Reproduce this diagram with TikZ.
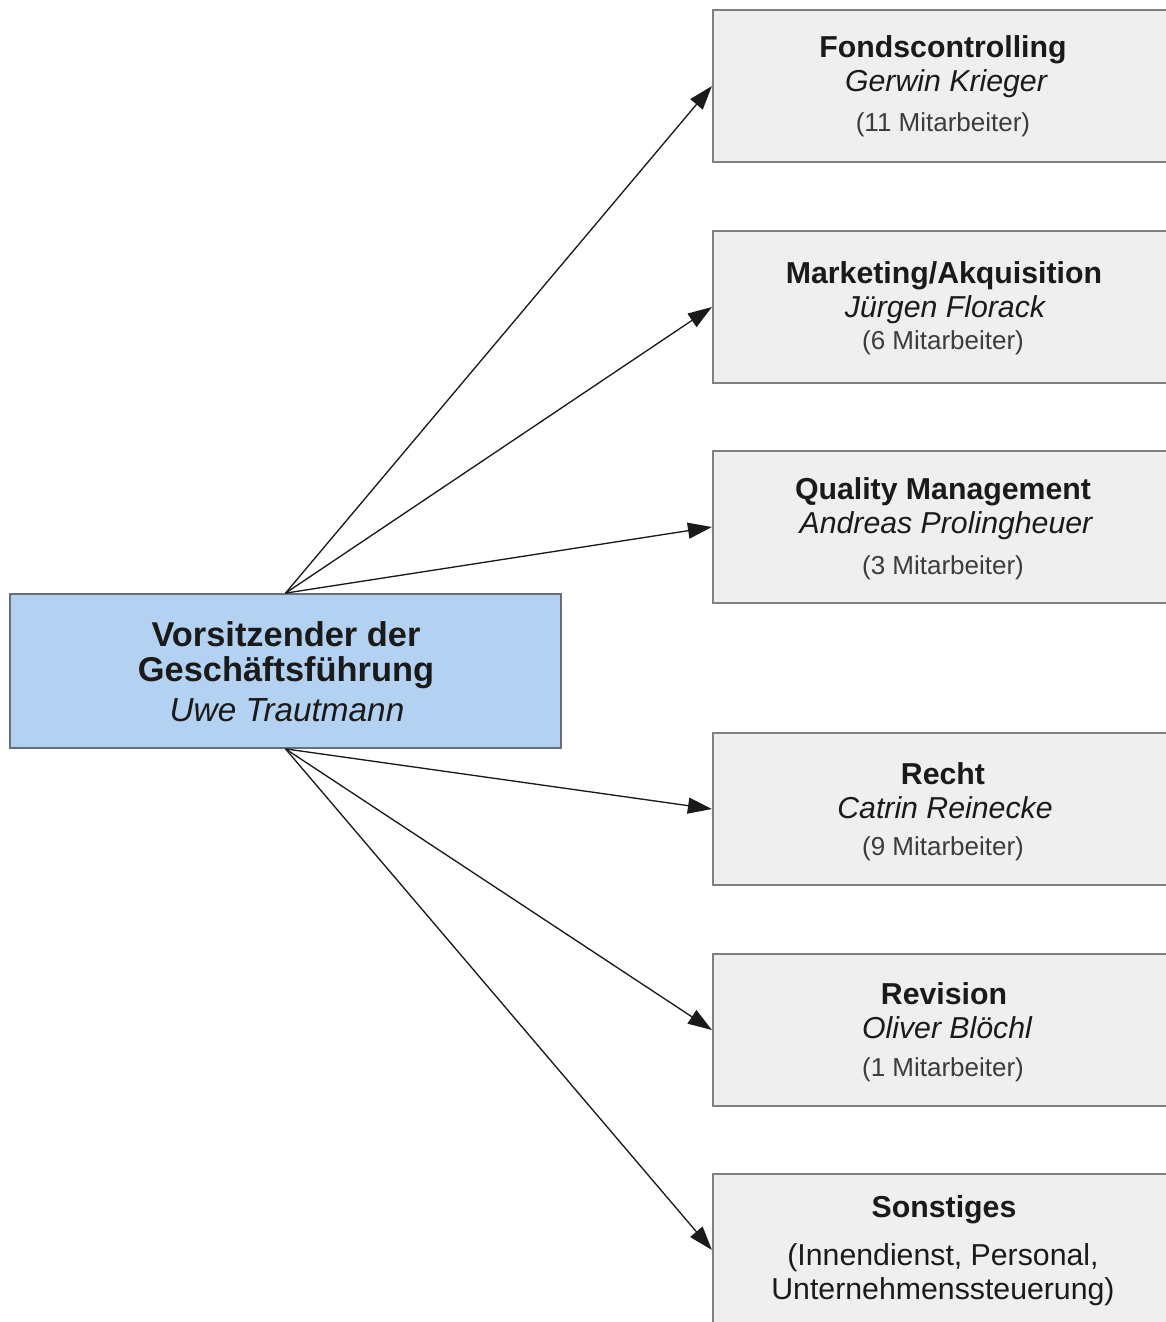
\documentclass[tikz,border=0pt]{standalone}
\usepackage{fontspec}
\setmainfont{Liberation Sans}
\usetikzlibrary{arrows.meta}
\definecolor{boxgray}{RGB}{239,239,239}
\definecolor{framegray}{RGB}{128,128,128}
\definecolor{headblue}{RGB}{179,209,240}
\definecolor{headframe}{RGB}{102,112,125}
\definecolor{inkdark}{RGB}{26,26,26}
\definecolor{inkcount}{RGB}{60,60,60}
\tikzset{
  unitbox/.style={draw=framegray, fill=boxgray, line width=1.6pt,
    minimum width=345.75pt, minimum height=114pt, inner sep=0pt},
  chiefbox/.style={draw=headframe, fill=headblue, line width=1.3pt,
    minimum width=413.25pt, minimum height=115.5pt, inner sep=0pt},
  deptname/.style={font=\fontsize{22.7pt}{27pt}\selectfont\bfseries, text=inkdark, inner sep=0pt},
  headname/.style={font=\fontsize{22.7pt}{27pt}\selectfont\itshape, text=inkdark, inner sep=0pt},
  staffcount/.style={font=\fontsize{19.5pt}{23pt}\selectfont, text=inkcount, inner sep=0pt},
  plaintext/.style={font=\fontsize{22.7pt}{27pt}\selectfont, text=inkdark, inner sep=0pt},
  chieftext/.style={font=\fontsize{25.8pt}{30pt}\selectfont\bfseries, text=inkdark, inner sep=0pt},
  chiefname/.style={font=\fontsize{25pt}{30pt}\selectfont\itshape, text=inkdark, inner sep=0pt},
  link/.style={draw=inkdark, line width=1pt, -{Triangle[length=18pt,width=12pt]}},
}
\begin{document}
\begin{tikzpicture}[x=0.75pt, y=-0.75pt]
  \useasboundingbox (0,0) rectangle (1166,1322);

  % managing director
  \node[chiefbox] (chief) at (285.5,671) {};
  \node[chieftext] (chiefA) at (286,634) {Vorsitzender der};
  \node[chieftext] (chiefB) at (286,673) {Geschäftsführung};
  \node[chiefname] (chiefC) at (287,710) {Uwe Trautmann};

  % departments
  \node[unitbox] (fonds) at (943.5,86) {};
  \node[deptname] (fondsA) at (943,50) {Fondscontrolling};
  \node[headname] (fondsB) at (946,84) {Gerwin Krieger};
  \node[staffcount] (fondsC) at (943,125) {(11 Mitarbeiter)};

  \node[unitbox] (mark) at (943.5,307) {};
  \node[deptname] (markA) at (944,276) {Marketing/Akquisition};
  \node[headname] (markB) at (945,310) {Jürgen Florack};
  \node[staffcount] (markC) at (943,343) {(6 Mitarbeiter)};

  \node[unitbox] (qual) at (943.5,527) {};
  \node[deptname] (qualA) at (943,492) {Quality Management};
  \node[headname] (qualB) at (946,526) {Andreas Prolingheuer};
  \node[staffcount] (qualC) at (943,568) {(3 Mitarbeiter)};

  \node[unitbox] (recht) at (943.5,809) {};
  \node[deptname] (rechtA) at (943,774) {Recht};
  \node[headname] (rechtB) at (945,808) {Catrin Reinecke};
  \node[staffcount] (rechtC) at (943,849) {(9 Mitarbeiter)};

  \node[unitbox] (rev) at (943.5,1030) {};
  \node[deptname] (revA) at (944,994) {Revision};
  \node[headname] (revB) at (947,1028) {Oliver Blöchl};
  \node[staffcount] (revC) at (943,1070) {(1 Mitarbeiter)};

  \node[unitbox] (sonst) at (943.5,1250) {};
  \node[deptname] (sonstA) at (944,1210) {Sonstiges};
  \node[plaintext] (sonstB) at (943,1258) {(Innendienst, Personal,};
  \node[plaintext] (sonstC) at (943,1292) {Unternehmenssteuerung)};

  % reporting lines
  \draw[link] (chief.north) -- (fonds.west);
  \draw[link] (chief.north) -- (mark.west);
  \draw[link] (chief.north) -- (qual.west);
  \draw[link] (chief.south) -- (recht.west);
  \draw[link] (chief.south) -- (rev.west);
  \draw[link] (chief.south) -- (sonst.west);
\end{tikzpicture}
\end{document}
